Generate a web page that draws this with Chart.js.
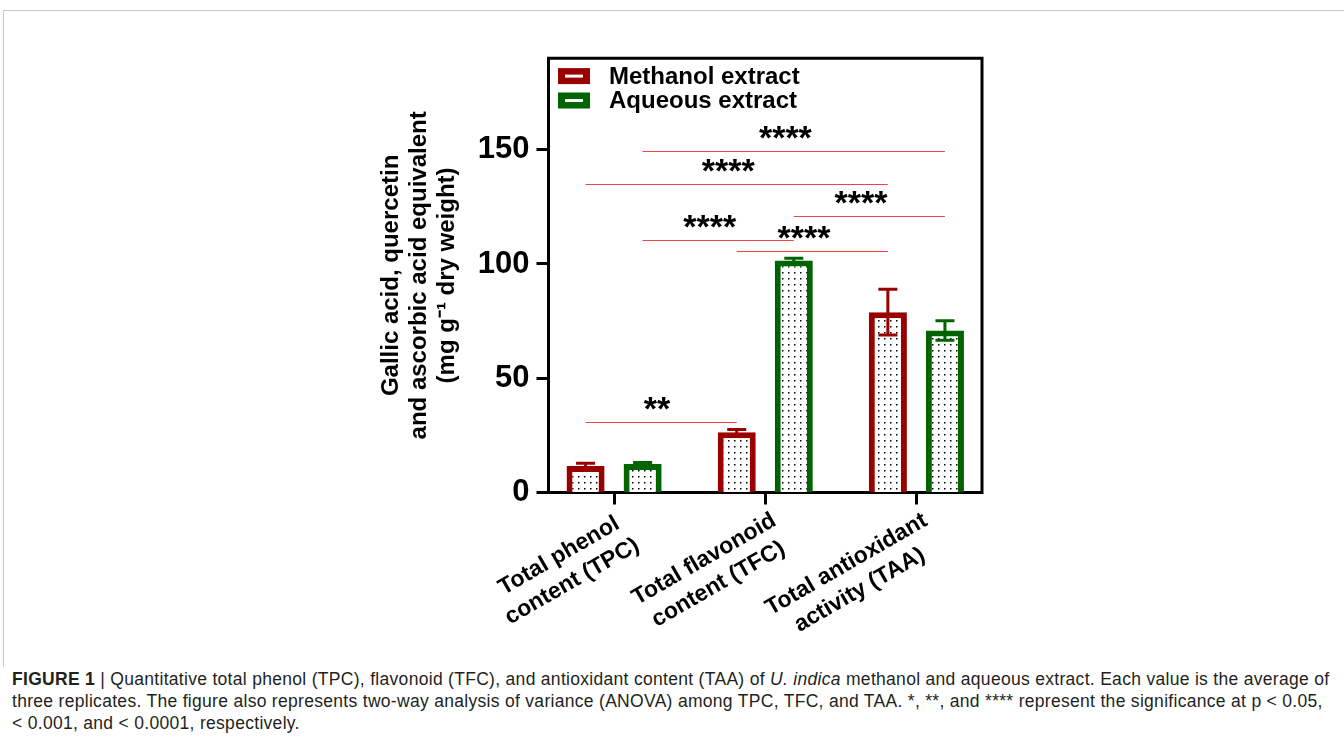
<!DOCTYPE html>
<html>
<head>
<meta charset="utf-8">
<script src="https://cdn.jsdelivr.net/npm/chart.js@4.4.1/dist/chart.umd.min.js"></script>
<style>
  html, body { margin: 0; padding: 0; background: #fff; }
  body { width: 1344px; height: 744px; position: relative; overflow: hidden; font-family: "Liberation Sans", Arial, sans-serif; }
  #frame { position: absolute; left: 3px; top: 10px; width: 1400px; height: 656px; border-top: 1.5px solid #c8c8c8; border-left: 1.5px solid #c8c8c8; }
  #wrap { position: absolute; left: 0; top: 0; width: 1344px; height: 660px; }
  #caption { position: absolute; left: 12px; top: 668px; font-size: 17.5px; letter-spacing: 0.3px; line-height: 22px; color: #231f20; white-space: nowrap; }
</style>
</head>
<body>
<div id="frame"></div>
<div id="wrap"><canvas id="chart" width="1344" height="660"></canvas></div>
<div id="caption"><b>FIGURE 1</b> | Quantitative total phenol (TPC), flavonoid (TFC), and antioxidant content (TAA) of <i>U. indica</i> methanol and aqueous extract. Each value is the average of<br>three replicates. The figure also represents two-way analysis of variance (ANOVA) among TPC, TFC, and TAA. *, **, and **** represent the significance at p &lt; 0.05,<br>&lt; 0.001, and &lt; 0.0001, respectively.</div>
<script>
// data
const categories = [['Total phenol', 'content (TPC)'], ['Total flavonoid', 'content (TFC)'], ['Total antioxidant', 'activity (TAA)']];
const seriesNames = ['Methanol extract', 'Aqueous extract'];
const methanolValues = [11.6, 26.4, 78.9];
const methanolErrors = [1.2, 1.2, 10.0];
const aqueousValues = [12.5, 101.5, 70.9];
const aqueousErrors = [0.6, 1.0, 4.3];
const yTicks = [0, 50, 100, 150];

// significance brackets: from [category, series] to [category, series]
const sigFrom = [[0, 1], [0, 0], [1, 1], [0, 1], [1, 0], [0, 0]];
const sigTo = [[2, 1], [2, 0], [2, 1], [1, 1], [2, 0], [1, 0]];
const sigLevels = [149.5, 134.8, 120.8, 110.6, 105.6, 31.0];
const sigStars = ['****', '****', '****', '****', '****', '**'];

const FONT = '"Liberation Sans", Arial, sans-serif';
const seriesColors = ['#990000', '#006400'];
Chart.defaults.font.family = FONT;

// dotted fill like the original bars
function dotPattern() {
    const c = document.createElement('canvas');
    c.width = 6; c.height = 6;
    const g = c.getContext('2d');
    g.fillStyle = '#fff';
    g.fillRect(0, 0, 6, 6);
    g.fillStyle = '#000';
    g.fillRect(2, 2, 1.5, 1.5);
    return g.createPattern(c, 'repeat');
}

// rotated labels are right aligned, pad the shorter line so lines look centred
const measure = document.createElement('canvas').getContext('2d');
measure.font = 'bold 23px ' + FONT;
function centeredLines(lines) {
    const widths = lines.map(l => measure.measureText(l).width);
    const maxW = Math.max(...widths);
    const sp = measure.measureText(' ').width;
    return lines.map((l, i) => l + ' '.repeat(Math.round((maxW - widths[i]) / 2 / sp)));
}

const annotate = {
    id: 'annotate',
    afterDatasetsDraw(chart) {
        const ctx = chart.ctx;
        const y = chart.scales.y;
        // error bars
        [methanolErrors, aqueousErrors].forEach((errs, d) => {
            const meta = chart.getDatasetMeta(d);
            const vals = chart.data.datasets[d].data;
            ctx.save();
            ctx.strokeStyle = seriesColors[d];
            ctx.lineWidth = 3;
            meta.data.forEach((bar, i) => {
                const top = y.getPixelForValue(vals[i].y + errs[i]);
                const bot = y.getPixelForValue(vals[i].y - errs[i]);
                ctx.beginPath();
                ctx.moveTo(bar.x, top); ctx.lineTo(bar.x, bot);
                ctx.moveTo(bar.x - 9.5, top); ctx.lineTo(bar.x + 9.5, top);
                ctx.moveTo(bar.x - 9.5, bot); ctx.lineTo(bar.x + 9.5, bot);
                ctx.stroke();
            });
            ctx.restore();
        });
        // significance lines
        ctx.save();
        sigLevels.forEach((lvl, k) => {
            const x1 = chart.getDatasetMeta(sigFrom[k][1]).data[sigFrom[k][0]].x;
            const x2 = chart.getDatasetMeta(sigTo[k][1]).data[sigTo[k][0]].x;
            const py = Math.round(y.getPixelForValue(lvl)) + 0.5;
            ctx.strokeStyle = '#ee4444';
            ctx.lineWidth = 1;
            ctx.beginPath();
            ctx.moveTo(x1, py); ctx.lineTo(x2, py);
            ctx.stroke();
            ctx.fillStyle = '#000';
            ctx.font = 'bold 34px ' + FONT;
            ctx.textAlign = 'center';
            ctx.textBaseline = 'alphabetic';
            ctx.fillText(sigStars[k], (x1 + x2) / 2 - sigStars[k].length * 2.1, py - 3);
        });
        ctx.restore();
    },
    afterDraw(chart) {
        const ctx = chart.ctx;
        const a = chart.chartArea;
        ctx.save();
        // top and right sides of the box
        ctx.strokeStyle = '#000';
        ctx.lineWidth = 3;
        ctx.lineCap = 'square';
        ctx.beginPath();
        ctx.moveTo(a.left, a.top); ctx.lineTo(a.right, a.top); ctx.lineTo(a.right, a.bottom);
        ctx.stroke();
        // legend
        seriesNames.forEach((name, d) => {
            const cy = a.top + 17.8 + d * 24.4;
            ctx.fillStyle = seriesColors[d];
            ctx.fillRect(a.left + 9.5, cy - 8, 32, 16);
            ctx.fillStyle = '#fff';
            ctx.fillRect(a.left + 16.5, cy - 1.5, 18, 3);
            ctx.fillStyle = '#000';
            ctx.font = 'bold 24px ' + FONT;
            ctx.textAlign = 'left';
            ctx.textBaseline = 'middle';
            ctx.fillText(name, a.left + 60.5, cy + 1);
        });
        ctx.restore();
    }
};

const pattern = dotPattern();

new Chart(document.getElementById('chart'), {
    type: 'bar',
    data: {
        datasets: [
            {
                label: seriesNames[0],
                data: methanolValues.map((v, i) => ({ x: i, y: v })),
                backgroundColor: pattern,
                borderColor: seriesColors[0],
                borderWidth: 6
            },
            {
                label: seriesNames[1],
                data: aqueousValues.map((v, i) => ({ x: i, y: v })),
                backgroundColor: pattern,
                borderColor: seriesColors[1],
                borderWidth: 6
            }
        ]
    },
    options: {
        responsive: false,
        animation: false,
        categoryPercentage: 0.755,
        barPercentage: 0.667,
        layout: { padding: { left: 370, right: 362, top: 58.3, bottom: 7.5 } },
        plugins: { legend: { display: false }, tooltip: { enabled: false } },
        scales: {
            x: {
                type: 'linear',
                min: -0.434,
                max: 2.434,
                offset: false,
                afterBuildTicks: s => { s.ticks = categories.map((c, i) => ({ value: i })); },
                afterFit: s => { s.height = 160; },
                grid: { drawOnChartArea: false, offset: false, tickLength: 12, tickWidth: 3, color: '#000' },
                border: { display: true, width: 3, color: '#000' },
                ticks: {
                    autoSkip: false,
                    minRotation: 30,
                    maxRotation: 30,
                    padding: 2,
                    labelOffset: 9,
                    color: '#000',
                    font: { size: 23, weight: 'bold', lineHeight: 1.25 },
                    callback: v => centeredLines(categories[v])
                }
            },
            y: {
                min: 0,
                max: 190,
                afterBuildTicks: s => { s.ticks = yTicks.map(v => ({ value: v })); },
                afterFit: s => { s.width = 178.5; },
                grid: { drawOnChartArea: false, tickLength: 12, tickWidth: 3, color: '#000' },
                border: { display: true, width: 3, color: '#000' },
                ticks: { padding: 7, color: '#000', font: { size: 31, weight: 'bold' } },
                title: {
                    display: true,
                    text: ['Gallic acid, quercetin', 'and ascorbic acid equivalent', '(mg g\u207B\u00B9 dry weight)'],
                    color: '#000',
                    font: { size: 24, weight: 'bold', lineHeight: 1.15 },
                    padding: { top: 8, bottom: 0 }
                }
            }
        }
    },
    plugins: [annotate]
});
</script>
</body>
</html>
